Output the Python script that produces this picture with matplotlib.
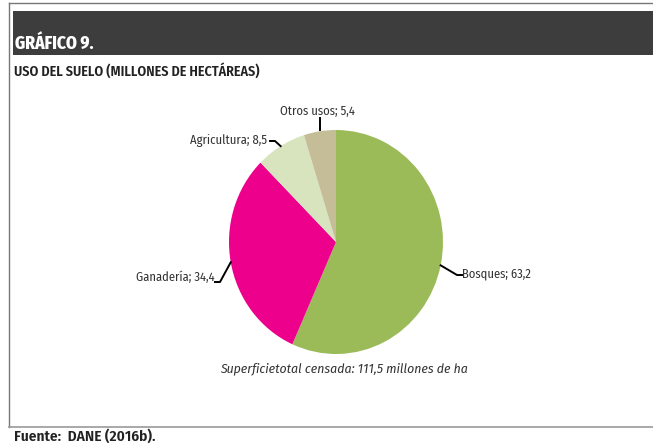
import numpy as np
import matplotlib.pyplot as plt
from matplotlib.lines import Line2D
from matplotlib.patches import Rectangle

# datos del gráfico
categorias = ['Bosques', 'Ganadería', 'Agricultura', 'Otros usos']
valores = [63.2, 34.4, 8.5, 5.4]
colores = ['#9BBB59', '#EC008C', '#D7E4BD', '#C4BD97']
etiquetas = ['Bosques; 63,2', 'Ganadería; 34,4', 'Agricultura; 8,5', 'Otros usos; 5,4']

plt.rcParams['font.family'] = ['Fira Sans Condensed', 'Roboto Condensed',
                               'Sofia Sans Semi Condensed', 'DejaVu Sans']

W, H = 653, 443
fig = plt.figure(figsize=(W / 100, H / 100), dpi=100)

def fx(x):
    return x / W

def fy(y):
    return 1 - y / H

# marco y banda oscura
fig.add_artist(Line2D([fx(8.5), fx(8.5)], [fy(3), fy(427)], color='#777777', lw=1))
fig.add_artist(Line2D([fx(8.5), 1], [fy(3), fy(3)], color='#777777', lw=1))
fig.add_artist(Line2D([fx(8.5), 1], [fy(427), fy(427)], color='#999999', lw=1.2))
fig.add_artist(Rectangle((fx(13), fy(55)), 1 - fx(13), fy(11) - fy(55),
                         facecolor='#3D3D3D', edgecolor='none'))

fig.text(fx(15), fy(49), 'GRÁFICO 9.', color='white', fontsize=12.5,
         fontweight='heavy', va='baseline')
fig.text(fx(14), fy(76), 'USO DEL SUELO (MILLONES DE HECTÁREAS)', color='#222222',
         fontsize=10.1, fontweight='semibold', va='baseline')
fig.text(fx(14), fy(441), 'Fuente:  DANE (2016b).', color='#222222',
         fontsize=11, fontweight='semibold', va='baseline')

# pastel
cx, cy, rx, ry = 336, 242, 107, 112
ax = fig.add_axes([fx(cx - rx), fy(cy + ry), 2 * rx / W, 2 * ry / H])
wedges, _ = ax.pie(valores, colors=colores, startangle=90, counterclock=False,
                   radius=1, wedgeprops=dict(linewidth=0))
ax.set_aspect('auto')
ax.set_xlim(-1, 1)
ax.set_ylim(-1, 1)
ax.axis('off')

# posiciones de las etiquetas (línea base del texto y quiebre de la guía), en píxeles
texto_pos = [(462, 277), (215, 281), (267, 144), (317, 115)]
quiebre = [(457, 275), (220, 282), (275, 141), (320, 118)]
alineacion = ['left', 'right', 'right', 'center']

for w, lab, tp, qb, ha in zip(wedges, etiquetas, texto_pos, quiebre, alineacion):
    ang = np.deg2rad((w.theta1 + w.theta2) / 2)
    ex = cx + rx * np.cos(ang)
    ey = cy - ry * np.sin(ang)
    if ha == 'center':
        fig.add_artist(Line2D([fx(qb[0]), fx(qb[0])], [fy(ey - 1), fy(qb[1])],
                              color='black', lw=1.4))
        fig.text(fx(tp[0]), fy(tp[1]), lab, ha='center', va='baseline',
                 fontsize=9, color='#333333')
        continue
    seg = 5 if ha == 'left' else -5
    fig.add_artist(Line2D([fx(ex), fx(qb[0]), fx(qb[0] + seg)],
                          [fy(ey), fy(qb[1]), fy(qb[1])], color='black', lw=1.4))
    fig.text(fx(tp[0]), fy(tp[1]), lab, ha=ha, va='baseline',
             fontsize=9, color='#333333')

fig.text(fx(344), fy(372), 'Superficietotal censada: 111,5 millones de ha',
         ha='center', va='baseline', fontsize=9.8, style='italic', color='#333333')

fig.savefig('out.png', dpi=100)
